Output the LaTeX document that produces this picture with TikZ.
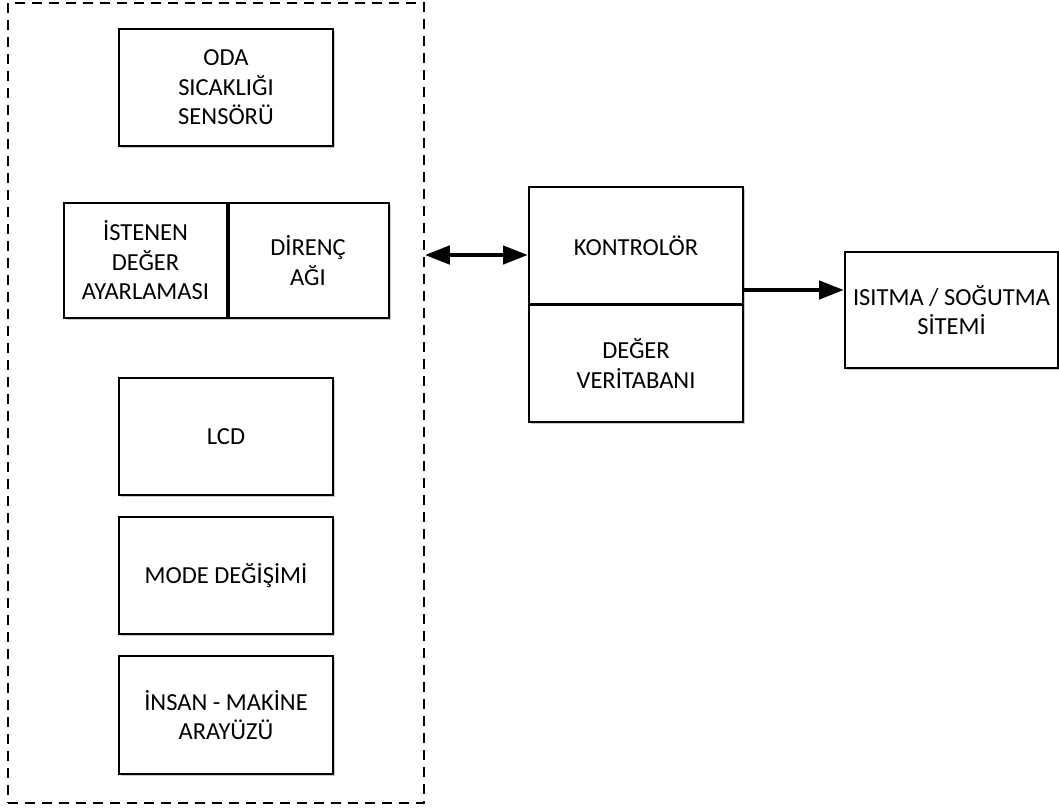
\documentclass[tikz,border=0pt]{standalone}
\usepackage{fontspec}
\setmainfont{Carlito}
\usetikzlibrary{arrows.meta,shadows}
\begin{document}
\begin{tikzpicture}[x=1pt,y=-1pt,
  block/.style={draw=black,line width=2pt,fill=white,inner sep=2pt,align=center,
    font=\fontsize{24.5}{29.5}\selectfont,
    drop shadow={shadow xshift=2pt,shadow yshift=-2pt,fill=black!45,opacity=0.45}},
  group/.style={draw=black,line width=1.5pt,dash pattern=on 10pt off 7pt,inner sep=0pt},
  link/.style={line width=4.5pt,-{Triangle[length=25pt,width=18pt]}},
  duplex/.style={line width=4.5pt,{Triangle[length=25pt,width=18pt]}-{Triangle[length=25pt,width=18pt]}}]
\useasboundingbox (0,0) rectangle (1059,807);

% left group of input units
\node[group,minimum width=416pt,minimum height=800pt] (grp) at (216,403) {};

\node[block,minimum width=214pt,minimum height=117pt] (sensor) at (226,87.5)
  {ODA\\SICAKLIĞI\\SENSÖRÜ};
\node[block,minimum width=163pt,minimum height=115pt] (setp) at (145.5,260.5)
  {İSTENEN\\DEĞER\\AYARLAMASI};
\node[block,minimum width=162pt,minimum height=115pt] (res) at (308,260.5)
  {DİRENÇ\\AĞI};
\draw[line width=3pt] (setp.north east) -- (setp.south east);
\node[block,minimum width=214pt,minimum height=117pt] (lcd) at (226,436.5) {LCD};
\node[block,minimum width=214pt,minimum height=117pt] (mode) at (226,575.5) {MODE DEĞİŞİMİ};
\node[block,minimum width=214pt,minimum height=118pt] (hmi) at (226,715)
  {İNSAN - MAKİNE\\ARAYÜZÜ};

% controller with its value store
\node[block,minimum width=214pt,minimum height=118pt] (ctrl) at (636,246) {KONTROLÖR};
\node[block,minimum width=214pt,minimum height=117pt] (db) at (636,363.5) {DEĞER\\VERİTABANI};
\draw[line width=1.5pt] (db.north west) -- (db.north east);

% heating / cooling unit
\node[block,minimum width=213pt,minimum height=116pt] (hvac) at (951.5,310)
  {ISITMA / SOĞUTMA\\SİTEMİ};

% connections
\coordinate (busy) at (0,255);
\coordinate (outy) at (0,290);
\draw[duplex] (grp.east |- busy) -- (ctrl.west |- busy);
\draw[link,line cap=round] (ctrl.east |- outy) -- (hvac.west |- outy);
\end{tikzpicture}
\end{document}
